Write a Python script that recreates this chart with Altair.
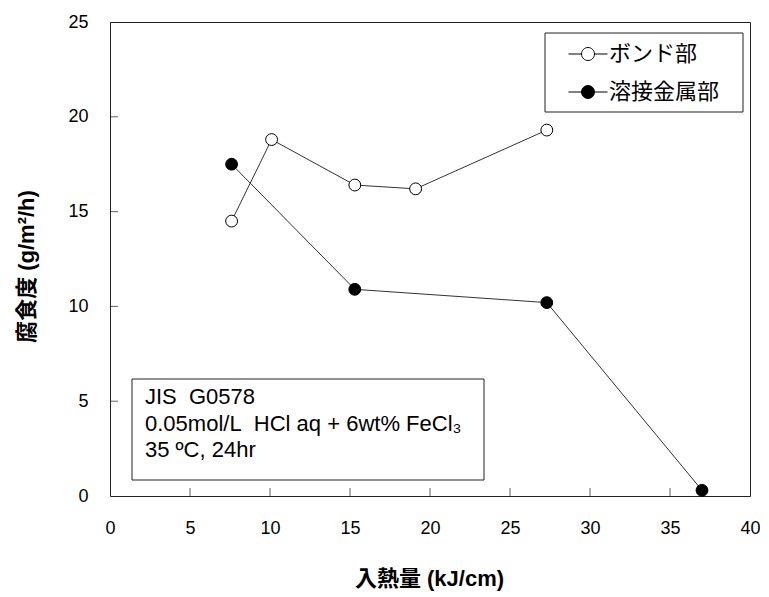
import altair as alt
import pandas as pd

# ---- data ----
series = ["ボンド部", "溶接金属部"]
bond_x = [7.6, 10.1, 15.3, 19.1, 27.3]
bond_y = [14.5, 18.8, 16.4, 16.2, 19.3]
weld_x = [7.6, 15.3, 27.3, 37.0]
weld_y = [17.5, 10.9, 10.2, 0.3]
x_ticks = [0, 5, 10, 15, 20, 25, 30, 35, 40]
y_ticks = [0, 5, 10, 15, 20, 25]
note_lines = ["JIS\u00a0\u00a0G0578", "0.05mol/L\u00a0\u00a0HCl aq + 6wt% FeCl₃", "35 ºC, 24hr"]
x_title = "入熱量 (kJ/cm)"
y_title = "腐食度 (g/m²/h)"

df = pd.DataFrame({
    "heat": bond_x + weld_x,
    "rate": bond_y + weld_y,
    "series": [series[0]] * len(bond_x) + [series[1]] * len(weld_x),
})
xt = pd.DataFrame({"heat": x_ticks[1:-1]})
yt = pd.DataFrame({"rate": y_ticks[1:-1]})
notes = pd.DataFrame({"text": ["\n".join(note_lines)]})

W, H = 640, 474
FONT = "Liberation Sans, Arial, Noto Sans CJK JP"

xs = alt.Scale(domain=[0, 40], nice=False, zero=False)
ys = alt.Scale(domain=[0, 25], nice=False, zero=False)
xaxis = alt.Axis(values=x_ticks, title=x_title, labelFontSize=18, labelPadding=23,
                 labelFlush=False, labelOverlap=False,
                 titleFontSize=22, titleFontWeight="bold", titleX=319, titleY=82,
                 titleBaseline="middle", titleFont=FONT)
yaxis = alt.Axis(values=y_ticks, title=y_title, labelFontSize=18, labelPadding=22,
                 labelFlush=False, labelOverlap=False,
                 titleFontSize=22, titleFontWeight="bold", titleX=-84, titleY=244,
                 titleBaseline="middle", titleFont=FONT)
X = alt.X("heat:Q", scale=xs, axis=xaxis)
Y = alt.Y("rate:Q", scale=ys, axis=yaxis)

sym = "M-3,0H-1M1,0H3M-1,0A1,1 0 1,0 1,0A1,1 0 1,0 -1,0Z"

lines = alt.Chart(df).mark_line(color="#333333", strokeWidth=1).encode(x=X, y=Y, detail="series:N")
points = alt.Chart(df).mark_circle(size=140, stroke="black", strokeWidth=1, opacity=1).encode(
    x=X, y=Y,
    fill=alt.Fill("series:N", scale=alt.Scale(domain=series, range=["white", "black"]),
                  legend=alt.Legend(title=None, orient="none", legendX=435, legendY=11,
                                    symbolType=sym, symbolSize=169, symbolStrokeColor="black",
                                    symbolStrokeWidth=1, symbolOffset=22, labelOffset=10,
                                    labelFont="Noto Sans CJK JP", labelFontSize=22,
                                    labelLimit=400,
                                    labelColor="black", padding=10, rowPadding=16)),
)
xticks = alt.Chart(xt).mark_tick(orient="vertical", size=8, thickness=1, color="#222222").encode(
    x=X, y=alt.value(H - 4))
yticks = alt.Chart(yt).mark_tick(orient="horizontal", size=8, thickness=1, color="#222222").encode(
    y=Y, x=alt.value(4))

legend_box = alt.Chart(notes).mark_rect(fill="white", stroke="#222222", strokeWidth=1).encode(
    x=alt.value(435), x2=alt.value(633), y=alt.value(11), y2=alt.value(90))
box = alt.Chart(notes).mark_rect(fill="white", stroke="#222222", strokeWidth=1).encode(
    x=alt.value(22), x2=alt.value(374), y=alt.value(357), y2=alt.value(458))
note_text = alt.Chart(notes).mark_text(align="left", baseline="top", fontSize=22, lineBreak="\n",
                                       lineHeight=26.5, font=FONT, color="black").encode(
    x=alt.value(35), y=alt.value(365), text="text:N")

chart = alt.layer(legend_box, box, note_text, lines, points, xticks, yticks).properties(
    width=W, height=H,
    autosize=alt.AutoSizeParams(type="none"),
    padding={"left": 102, "top": 14, "right": 10, "bottom": 98},
).configure(font=FONT).configure_view(stroke="#222222", strokeWidth=1).configure_axis(
    domain=False, ticks=False, grid=False, labelColor="black", titleColor="black",
    labelFont=FONT)

chart.save("out.html", embed_options={"renderer": "svg", "actions": False})
